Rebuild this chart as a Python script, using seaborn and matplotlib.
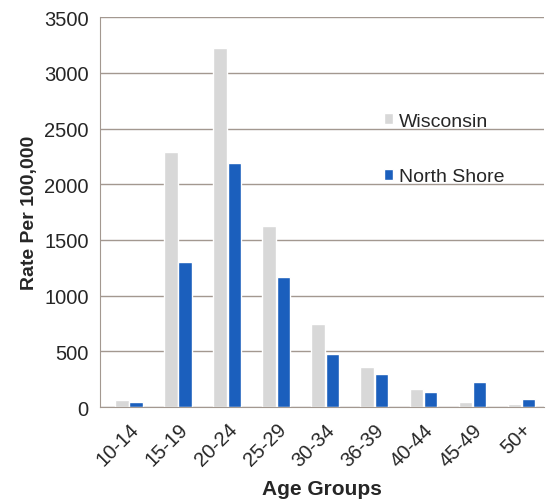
import matplotlib
matplotlib.use("Agg")
import matplotlib.pyplot as plt
import seaborn as sns
import pandas as pd

categories = ["10-14", "15-19", "20-24", "25-29", "30-34", "36-39", "40-44", "45-49", "50+"]
wisconsin = [60, 2290, 3220, 1625, 750, 360, 160, 50, 25]
north_shore = [45, 1300, 2190, 1165, 475, 296, 135, 222, 75]

df = pd.DataFrame({
    "Age Groups": categories * 2,
    "Rate": wisconsin + north_shore,
    "Region": ["Wisconsin"] * len(categories) + ["North Shore"] * len(categories),
})

sns.set_style("white")
plt.rcParams['font.family'] = ['Liberation Sans', 'DejaVu Sans']

fig = plt.figure(figsize=(5.48, 5.02), dpi=100)
ax = fig.add_axes([0.182, 0.187, 0.81, 0.777])

sns.barplot(data=df, x="Age Groups", y="Rate", hue="Region",
            palette={"Wisconsin": "#d8d8d8", "North Shore": "#1b5fbd"},
            width=0.58, gap=0.04, ax=ax, legend=True, saturation=1)

ax.set_ylim(0, 3500)
ax.set_yticks(range(0, 3501, 500))
ax.yaxis.grid(True, color="#a39890", linewidth=1)
ax.set_axisbelow(True)
for s in ["top", "right"]:
    ax.spines[s].set_visible(False)
ax.spines["left"].set_color("#a39890")
ax.spines["bottom"].set_color("#a39890")
ax.set_xlim(-0.6, 8.45)

ax.tick_params(axis="y", labelsize=14.5, length=0, pad=8)
ax.tick_params(axis="x", labelsize=14.5, length=0, pad=9)
for lbl in ax.get_xticklabels():
    lbl.set_rotation(45)
    lbl.set_ha("right")
    lbl.set_rotation_mode("anchor")

ax.set_xlabel("Age Groups", fontsize=15, fontweight="bold", labelpad=7)
ax.set_ylabel("Rate Per 100,000", fontsize=14, fontweight="bold", labelpad=4)

leg = ax.legend(loc="upper left", bbox_to_anchor=(0.6, 0.80), frameon=False,
                fontsize=14, handlelength=0.5, handleheight=0.5, handletextpad=0.3,
                labelspacing=2.0)

fig.savefig("out.png", dpi=100)
